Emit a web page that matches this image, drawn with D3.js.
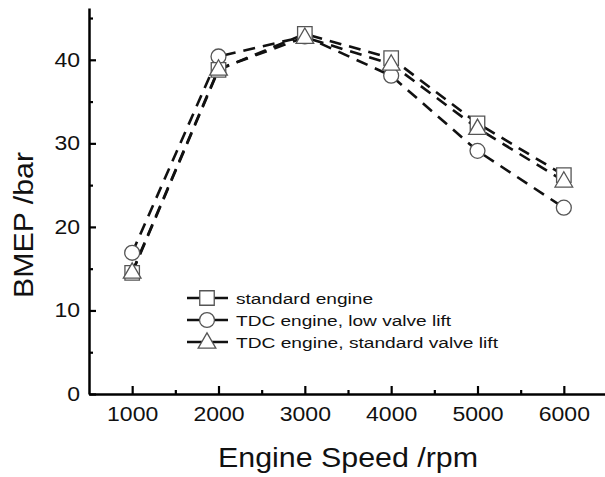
<!DOCTYPE html>
<html>
<head>
<meta charset="utf-8">
<script src="https://cdn.jsdelivr.net/npm/d3@7"></script>
<style>
  body { margin: 0; background: #fff; }
  svg { font-family: "Liberation Sans", Arial, sans-serif; }
</style>
</head>
<body>
<svg width="605" height="477"></svg>
<script>
// data
const rpm = [1000, 2000, 3000, 4000, 5000, 6000]
const standardEngine = [14.5, 38.8, 43.1, 40.2, 32.4, 26.2]
const tdcLowLift = [16.9, 40.4, 42.8, 38.1, 29.1, 22.3]
const tdcStdLift = [14.6, 38.9, 42.7, 39.5, 31.8, 25.5]
const seriesNames = ['standard engine', 'TDC engine, low valve lift', 'TDC engine, standard valve lift']
const xTicks = [1000, 2000, 3000, 4000, 5000, 6000]
const yTicks = [0, 10, 20, 30, 40]

const svg = d3.select('svg')

const x = d3.scaleLinear().domain([500, 6500]).range([89, 607])
const y = d3.scaleLinear().domain([0, 46.2]).range([394, 8])

const series = [
  { name: seriesNames[0], values: standardEngine, shape: 'square', len: 137 },
  { name: seriesNames[1], values: tdcLowLift, shape: 'circle', len: 215 },
  { name: seriesNames[2], values: tdcStdLift, shape: 'triangle', len: 262 }
]

// axes
const xAxis = svg.append('g').attr('transform', `translate(0,${y(0)})`)
  .call(d3.axisBottom(x).tickValues(xTicks).tickFormat(d3.format('d'))
    .tickSizeInner(-8).tickSizeOuter(0).tickPadding(13))
xAxis.append('g')
  .call(d3.axisBottom(x).tickValues([1500, 2500, 3500, 4500, 5500])
    .tickFormat('').tickSizeInner(-4).tickSizeOuter(0))
  .select('.domain').remove()

const yAxis = svg.append('g').attr('transform', `translate(${x(500)},0)`)
  .call(d3.axisLeft(y).tickValues(yTicks).tickFormat(d3.format('d'))
    .tickSizeInner(-7).tickSizeOuter(0).tickPadding(9))
yAxis.append('g')
  .call(d3.axisLeft(y).tickValues([5, 15, 25, 35, 45])
    .tickFormat('').tickSizeInner(-4).tickSizeOuter(0))
  .select('.domain').remove()

svg.selectAll('.domain').attr('stroke', '#000').attr('stroke-width', 2.5)
svg.selectAll('.tick line').attr('stroke', '#000').attr('stroke-width', 2.2)
svg.selectAll('.tick text')
  .attr('font-size', 20).attr('fill', '#111')
  .attr('font-family', '"Liberation Sans", Arial, sans-serif')
  .attr('lengthAdjust', 'spacingAndGlyphs')
  .attr('textLength', function () { return this.textContent.length * 12.8 })

// axis titles
svg.append('text')
  .attr('x', 348).attr('y', 467)
  .attr('text-anchor', 'middle')
  .attr('font-size', 27).attr('fill', '#111')
  .attr('lengthAdjust', 'spacingAndGlyphs').attr('textLength', 260)
  .text('Engine Speed /rpm')

svg.append('text')
  .attr('transform', 'translate(33,225) rotate(-90)')
  .attr('text-anchor', 'middle')
  .attr('font-size', 28).attr('fill', '#111')
  .attr('lengthAdjust', 'spacingAndGlyphs').attr('textLength', 146)
  .text('BMEP /bar')

// lines
const line = d3.line().x((d, i) => x(rpm[i])).y(d => y(d))

svg.selectAll('.series-line')
  .data(series)
  .enter()
  .append('path')
  .attr('class', 'series-line')
  .attr('d', d => line(d.values))
  .attr('fill', 'none')
  .attr('stroke', '#111')
  .attr('stroke-width', 2.6)
  .attr('stroke-dasharray', '12,8')

// markers
const sym = {
  square: d3.symbol().type(d3.symbolSquare).size(210),
  circle: d3.symbol().type(d3.symbolCircle).size(175),
  triangle: d3.symbol().type(d3.symbolTriangle).size(135)
}

function drawMarker(g, shape, cx, cy) {
  const t = shape === 'triangle' ? `translate(${cx},${cy + 1})` : `translate(${cx},${cy})`
  g.append('path')
    .attr('transform', t)
    .attr('d', sym[shape]())
    .attr('fill', '#fff')
    .attr('stroke', '#555')
    .attr('stroke-width', 1.3)
}

const markers = svg.append('g')
// draw order: circles, squares, triangles
;[series[1], series[0], series[2]].forEach(s => {
  s.values.forEach((v, i) => drawMarker(markers, s.shape, x(rpm[i]), y(v)))
})

// legend
const legend = svg.append('g').attr('id', 'legend')
series.forEach((s, i) => {
  const ly = 298 + i * 22
  legend.append('line')
    .attr('x1', 187).attr('x2', 228).attr('y1', ly).attr('y2', ly)
    .attr('stroke', '#111').attr('stroke-width', 2.4)
  drawMarker(legend, s.shape, 207, ly)
  legend.append('text')
    .attr('x', 236).attr('y', ly + 5.5)
    .attr('font-size', 15.5).attr('fill', '#111')
    .attr('lengthAdjust', 'spacingAndGlyphs').attr('textLength', s.len)
    .text(s.name)
})
</script>
</body>
</html>
